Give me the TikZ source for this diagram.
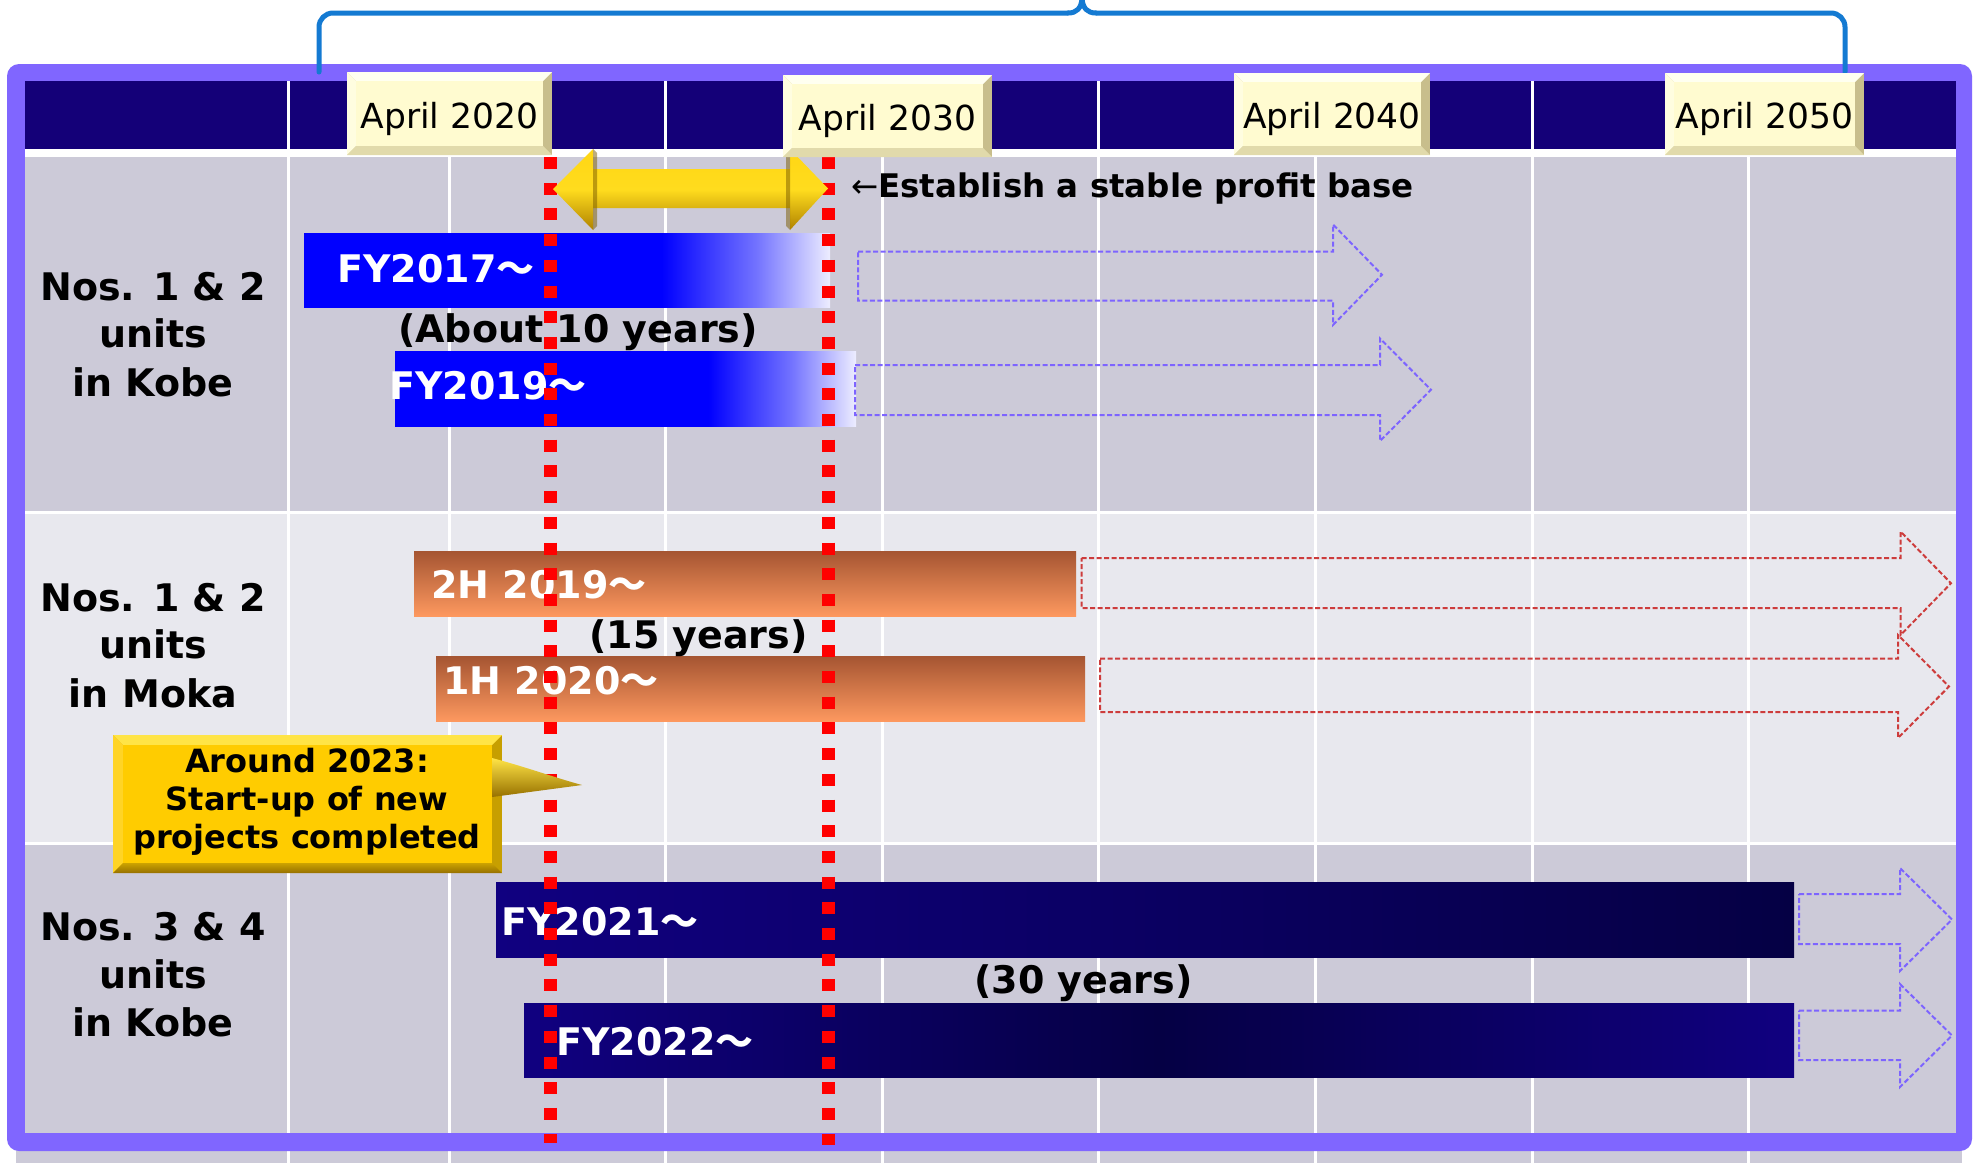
\documentclass[tikz,border=0pt]{standalone}
\usepackage{fontspec}
\setmainfont{DejaVu Sans}
\newfontfamily\cjk{Noto Sans CJK JP}
\newcommand{\tld}{{\cjk ～}}
\definecolor{framepurple}{RGB}{128,102,255}
\definecolor{hdrnavy}{RGB}{20,0,120}
\definecolor{rowgrey}{RGB}{204,202,216}
\definecolor{rowlight}{RGB}{232,232,238}
\definecolor{pureblue}{RGB}{0,0,255}
\definecolor{bracketblue}{RGB}{20,122,210}
\definecolor{dashblue}{RGB}{125,100,255}
\definecolor{dashred}{RGB}{205,60,60}
\definecolor{navyA}{RGB}{16,0,128}
\definecolor{navyB}{RGB}{5,0,68}
\definecolor{orgtop}{RGB}{165,85,50}
\definecolor{orgbot}{RGB}{253,152,95}
\definecolor{goldc}{RGB}{255,204,0}
\definecolor{goldlt}{RGB}{255,228,70}
\definecolor{golddk}{RGB}{150,112,0}
\definecolor{arrtop}{RGB}{255,214,20}
\definecolor{arrmid}{RGB}{255,220,30}
\definecolor{arrbot}{RGB}{175,130,0}
\definecolor{cream}{RGB}{255,251,208}
\definecolor{creamlt}{RGB}{255,255,240}
\definecolor{creamdk}{RGB}{200,190,140}
\definecolor{redline}{RGB}{255,0,0}
\pgfdeclarehorizontalshading{bluefade}{100bp}{color(0bp)=(pureblue); color(25bp)=(pureblue); color(59bp)=(pureblue); color(68bp)=(pureblue!55!white); color(75bp)=(pureblue!7!white); color(100bp)=(pureblue!7!white)}
\tikzset{
 gridline/.style={white, line width=3pt},
 bracketline/.style={bracketblue, line width=5pt, line cap=round},
 dashb/.style={dashblue, line width=2pt, dash pattern=on 5pt off 2.5pt},
 dashr/.style={dashred, line width=2pt, dash pattern=on 5pt off 2.5pt},
 reddots/.style={redline, line width=13pt, dash pattern=on 12pt off 13.7pt},
 lbl/.style={font=\fontsize{38}{46}\selectfont\bfseries, anchor=base, inner sep=0pt},
 bartxt/.style={font=\fontsize{38}{46}\selectfont\bfseries, text=white, anchor=base west, inner sep=0pt},
 durtxt/.style={font=\fontsize{38}{46}\selectfont\bfseries, anchor=base west, inner sep=0pt},
 datelbl/.style={font=\fontsize{34.5}{40}\selectfont, anchor=base, inner sep=0pt},
 calltxt/.style={font=\fontsize{32}{38}\selectfont\bfseries, anchor=base, inner sep=0pt},
 esttxt/.style={font=\fontsize{32.5}{38}\selectfont\bfseries, anchor=base west, inner sep=0pt},
}
\newcommand{\outarrow}[8]{\draw[#1] (#2,#3) -- (#5,#3) -- (#5,#6) -- (#8,{(#6+#7)/2}) -- (#5,#7) -- (#5,#4) -- (#2,#4) -- cycle;}
\newcommand{\bevbox}[7]{%
 \fill[creamdk] (#2,#3) rectangle (#4,#5);
 \fill[creamlt] (#2,#3) -- (#4,#3) -- ({#4-9},{#3+9}) -- ({#2+9},{#3+9}) -- cycle;
 \fill[creamlt!50!cream] (#2,#3) -- ({#2+9},{#3+9}) -- ({#2+9},{#5-9}) -- (#2,#5) -- cycle;
 \fill[creamdk!55!cream] (#2,#5) -- ({#2+9},{#5-9}) -- ({#4-9},{#5-9}) -- (#4,#5) -- cycle;
 \fill[cream] ({#2+9},{#3+9}) rectangle ({#4-9},{#5-9});
 \node[datelbl] (#1) at ({(#2+#4)/2},#7) {#6};
}
\begin{document}
\begin{tikzpicture}[x=1pt,y=-1pt]
\useasboundingbox (0,0) rectangle (1977,1163);
\fill[white] (0,0) rectangle (1977,1163);
% strip below frame
\fill[rowgrey] (16,1140) rectangle (1962,1163);
\foreach \cx in {288,449,665,882,1098,1315,1532,1748} \draw[gridline] (\cx,1140) -- (\cx,1163);
% frame
\fill[framepurple, rounded corners=12pt] (7,64) rectangle (1972,1151);
\fill[hdrnavy] (25,81) rectangle (1956,149);
\fill[white] (25,149) rectangle (1956,157);
\fill[rowgrey] (25,157) rectangle (1956,511);
\fill[white] (25,511) rectangle (1956,514);
\fill[rowlight] (25,514) rectangle (1956,842);
\fill[white] (25,842) rectangle (1956,845);
\fill[rowgrey] (25,845) rectangle (1956,1133);
\foreach \cx in {288,449,665,882,1098,1315,1532,1748} \draw[gridline] (\cx,157) -- (\cx,1133);
\foreach \cx in {288,665,1098,1532} \draw[gridline] (\cx,81) -- (\cx,149);
% bracket
\draw[bracketline, rounded corners=14pt] (319,72) -- (319,13) -- (1068,13);
\draw[bracketline] (1068,13) .. controls (1077,13) and (1081,8) .. (1082,-1) .. controls (1083,8) and (1087,13) .. (1096,13);
\draw[bracketline, rounded corners=14pt] (1096,13) -- (1845,13) -- (1845,72);
% Kobe 1&2 bars
\shade[shading=bluefade] (304,233) rectangle (830,307);
\shade[shading=bluefade] (395,351) rectangle (856,426);
\outarrow{dashb}{858}{251.5}{300.5}{1333}{224.5}{325}{1382}
\outarrow{dashb}{855}{365}{415}{1380}{338.5}{441}{1431}
\node[bartxt] (fy17) at (337,282) {FY2017\tld};
\node[durtxt] (d10) at (398,342) {(About 10 years)};
\node[bartxt] (fy19) at (389,399) {FY2019\tld};
% Moka bars
\shade[top color=orgtop, bottom color=orgbot] (414,551) rectangle (1076,616);
\shade[top color=orgtop, bottom color=orgbot] (436,656) rectangle (1085,721);
\outarrow{dashr}{1081.5}{558}{608}{1900.5}{531.5}{635}{1951}
\outarrow{dashr}{1100}{658.5}{712}{1898}{635}{738}{1949}
\node[bartxt] (h19) at (431,598) {2H 2019\tld};
\node[durtxt] (d15) at (589,648) {(15 years)};
\node[bartxt] (h20) at (443,694) {1H 2020\tld};
% Kobe 3&4 bars
\shade[left color=navyA, right color=navyB] (496,882) rectangle (1794,957);
\shade[left color=navyA, right color=navyA, middle color=navyB] (524,1003) rectangle (1794,1077);
\outarrow{dashb}{1799}{894}{944}{1900}{868}{971}{1952}
\outarrow{dashb}{1799}{1010.5}{1060}{1900}{984}{1087}{1952}
\node[bartxt] (fy21) at (501,935) {FY2021\tld};
\node[durtxt] (d30) at (974,993) {(30 years)};
\node[bartxt] (fy22) at (556,1055) {FY2022\tld};
% red dotted lines
\coordinate (r1t) at (550.5,157);
\coordinate (r1b) at (550.5,1143);
\coordinate (r2t) at (828.5,157);
\coordinate (r2b) at (828.5,1145);
\draw[reddots] (r1t) -- (r1b);
\draw[reddots] (r2t) -- (r2b);
% gold double arrow
\shade[top color=arrtop, bottom color=arrbot, middle color=arrmid] (553,189) -- (593,149) -- (593,169) -- (790,169) -- (790,149) -- (828,188.5) -- (790,230) -- (790,208) -- (593,208) -- (593,230) -- cycle;
\fill[arrbot!70!black, opacity=0.5] (593,149) -- (597,153) -- (597,226) -- (593,230) -- cycle;
\fill[arrbot!70!black, opacity=0.5] (790,149) -- (786,153) -- (786,226) -- (790,230) -- cycle;
\node[esttxt] (est) at (851,197) {{\mdseries ←}Establish a stable profit base};
% header date boxes
\bevbox{a2020}{347}{72}{552}{155}{April 2020}{128}
\bevbox{a2030}{783}{75}{992}{157}{April 2030}{130.5}
\bevbox{a2040}{1234}{73}{1430}{155}{April 2040}{128}
\bevbox{a2050}{1665}{73}{1864}{155}{April 2050}{128}
% row labels
\node[lbl] (k1a) at (153,300) {Nos. 1 \& 2};
\node[lbl] (k1b) at (153,347) {units};
\node[lbl] (k1c) at (153,396) {in Kobe};
\node[lbl] (m1a) at (153,611) {Nos. 1 \& 2};
\node[lbl] (m1b) at (153,658) {units};
\node[lbl] (m1c) at (153,707) {in Moka};
\node[lbl] (k3a) at (153,940) {Nos. 3 \& 4};
\node[lbl] (k3b) at (153,988) {units};
\node[lbl] (k3c) at (153,1036) {in Kobe};
% callout
\fill[goldc!78!black] (113,735) rectangle (502,873);
\fill[goldlt] (113,735) -- (502,735) -- (492,745) -- (123,745) -- cycle;
\fill[goldc!85!white] (113,735) -- (123,745) -- (123,863) -- (113,873) -- cycle;
\shade[top color=goldc!80!black, bottom color=golddk] (113,873) -- (123,863) -- (492,863) -- (502,873) -- cycle;
\fill[goldc] (123,745) rectangle (492,863);
\shade[top color=goldlt, bottom color=golddk] (492,758) .. controls (526,767) and (556,778) .. (582,785) -- (492,797) -- cycle;
\node[calltxt] (c1) at (307,772) {Around 2023:};
\node[calltxt] (c2) at (307,810.5) {Start-up of new};
\node[calltxt] (c3) at (307,848.5) {projects completed};
\end{tikzpicture}
\end{document}
